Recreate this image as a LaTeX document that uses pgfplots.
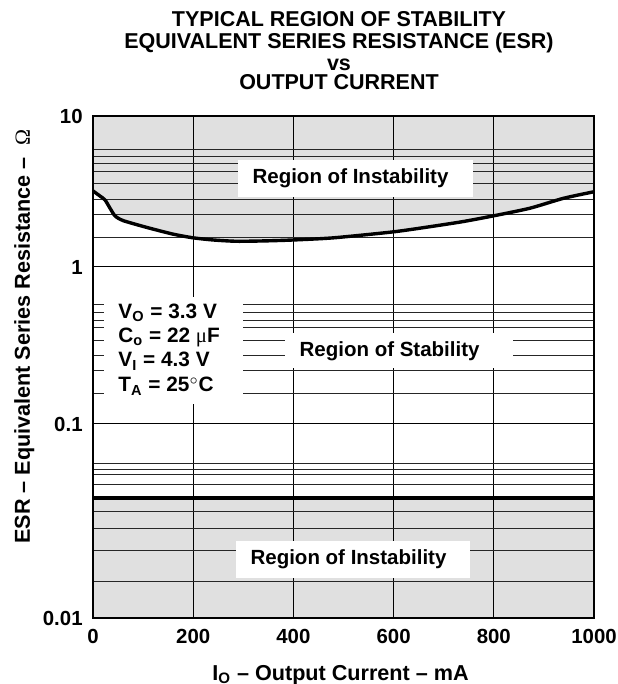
\documentclass[border=0pt]{standalone}
\usepackage{fontspec}
\setmainfont{Liberation Sans}
\newfontfamily\serifsym{Liberation Serif}
\usepackage{pgfplots}
\pgfplotsset{compat=1.18}
\definecolor{regiongray}{RGB}{224,224,224}

\begin{document}
\begin{tikzpicture}[font=\fontsize{10.25}{12}\selectfont\bfseries]

% ---- top decade 1..10
\begin{axis}[set layers, scale only axis, width=250.5pt, height=75.5pt,
  at={(0,175.5pt)}, anchor=south west,
  ymode=log, xmin=0, xmax=1000, ymin=1, ymax=10,
  xtick={0,200,400,600,800,1000}, xticklabels={},
  ytick={1,10}, yticklabels={1,10},
  minor ytick={1.56,2.21,2.82,3.55,4.26,4.88,5.43,5.96},
  grid=both,
  major grid style={black, line width=0.5pt},
  minor grid style={black!85, line width=0.5pt},
  major tick length=0pt, minor tick length=0pt,
  axis line style={draw=none},
  tick label style={font=\fontsize{10.2}{12}\selectfont\bfseries},
  yticklabel style={anchor=east, inner sep=0pt, xshift=-5pt}]
\addplot[on layer=axis background, fill=regiongray, draw=none] coordinates {
  (0,3.19) (14,2.95) (24,2.78) (34,2.45) (44,2.18) (60,2.03) (107,1.83)
  (160,1.65) (200,1.56) (240,1.51) (287,1.48) (347,1.49) (400,1.51)
  (480,1.56) (600,1.71) (673,1.85) (739,2.00) (799,2.18) (872,2.45)
  (939,2.85) (1000,3.15) (1000,10) (0,10)};
\addplot[black, line width=1.7pt, smooth, tension=0.4] coordinates {
  (0,3.19) (14,2.95) (24,2.78) (34,2.45) (44,2.18) (60,2.03) (107,1.83)
  (160,1.65) (200,1.56) (240,1.51) (287,1.48) (347,1.49) (400,1.51)
  (480,1.56) (600,1.71) (673,1.85) (739,2.00) (799,2.18) (872,2.45)
  (939,2.85) (1000,3.15)};
\end{axis}

% ---- middle decade 0.1..1
\begin{axis}[set layers, scale only axis, width=250.5pt, height=78.5pt,
  at={(0,97pt)}, anchor=south west,
  ymode=log, xmin=0, xmax=1000, ymin=0.1, ymax=1,
  xtick={0,200,400,600,800,1000}, xticklabels={},
  ytick={0.1,1}, yticklabels={0.1,{}},
  minor ytick={0.157,0.218,0.275,0.338,0.409,0.459,0.516,0.573},
  grid=both,
  major grid style={black, line width=0.5pt},
  minor grid style={black!85, line width=0.5pt},
  major tick length=0pt, minor tick length=0pt,
  axis line style={draw=none},
  tick label style={font=\fontsize{10.2}{12}\selectfont\bfseries},
  yticklabel style={anchor=east, inner sep=0pt, xshift=-5pt}]
\addplot[draw=none] coordinates {(0,0.5) (1000,0.5)};
\end{axis}

% ---- bottom decade 0.01..0.1
\begin{axis}[set layers, scale only axis, width=250.5pt, height=97pt,
  at={(0,0pt)}, anchor=south west,
  ymode=log, xmin=0, xmax=1000, ymin=0.01, ymax=0.1,
  xtick={0,200,400,600,800,1000}, xticklabels={0,200,400,600,800,1000},
  ytick={0.01,0.1}, yticklabels={0.01,{}},
  minor ytick={0.0155,0.0224,0.0288,0.0352,0.0485,0.0546,0.0586,0.0629},
  grid=both,
  major grid style={black, line width=0.5pt},
  minor grid style={black!85, line width=0.5pt},
  major tick length=0pt, minor tick length=0pt,
  axis line style={draw=none},
  tick label style={font=\fontsize{10.2}{12}\selectfont\bfseries},
  yticklabel style={anchor=east, inner sep=0pt, xshift=-5pt},
  xticklabel style={anchor=north, inner sep=0pt, yshift=-5.5pt}]
\addplot[on layer=axis background, fill=regiongray, draw=none] coordinates {
  (0,0.01) (1000,0.01) (1000,0.0415) (0,0.0415)};
\addplot[black, line width=1.8pt] coordinates {(0,0.0415) (1000,0.0415)};
\end{axis}

% ---- frame, labels and annotations
\begin{axis}[
  scale only axis, width=250.5pt, height=251pt,
  at={(0,0)}, anchor=south west, clip=false,
  xmin=0, xmax=1000, ymin=0, ymax=1,
  xtick=\empty, ytick=\empty,
  axis line style={line width=1.4pt},
  every axis y label/.style={at={(rel axis cs:-0.137,0.561)}, rotate=90, anchor=center,
     font=\fontsize{10.8}{12}\selectfont\bfseries},
  ylabel={ESR -- Equivalent Series Resistance --\hspace{6pt}{\serifsym\mdseries Ω}},
  every axis x label/.style={at={(rel axis cs:0.494,-0.1235)}, anchor=base,
     font=\fontsize{10.8}{12}\selectfont\bfseries},
  xlabel={I\textsubscript{O} -- Output Current -- mA},
]
\fill[white] (rel axis cs:0.289,0.839) rectangle (rel axis cs:0.758,0.912);
\node[anchor=center, inner sep=0pt] at (rel axis cs:0.514,0.876) {Region of Instability};
\fill[white] (rel axis cs:0.285,0.0797) rectangle (rel axis cs:0.752,0.153);
\node[anchor=center, inner sep=0pt] at (rel axis cs:0.510,0.118) {Region of Instability};
\fill[white] (rel axis cs:0.383,0.498) rectangle (rel axis cs:0.838,0.568);
\node[anchor=center, inner sep=0pt] at (rel axis cs:0.592,0.532) {Region of Stability};
\fill[white] (rel axis cs:0.022,0.426) rectangle (rel axis cs:0.299,0.639);
\begin{scope}[font=\fontsize{10.4}{12}\selectfont\bfseries]
\node[anchor=base west, inner sep=0pt] at (rel axis cs:0.05,0.5976) {V\textsubscript{O} = 3.3 V};
\node[anchor=base west, inner sep=0pt] at (rel axis cs:0.05,0.5478) {C\textsubscript{o} = 22 {\serifsym\mdseries μ}F};
\node[anchor=base west, inner sep=0pt] at (rel axis cs:0.05,0.5000) {V\textsubscript{I} = 4.3 V};
\node[anchor=base west, inner sep=0pt] at (rel axis cs:0.05,0.4502) {T\textsubscript{A} = 25$^\circ$C};
\end{scope}
\begin{scope}[font=\fontsize{10.75}{12}\selectfont\bfseries]
\node[anchor=base, inner sep=0pt] at (rel axis cs:0.491,1.178) {TYPICAL REGION OF STABILITY};
\node[anchor=base, inner sep=0pt] at (rel axis cs:0.491,1.135) {EQUIVALENT SERIES RESISTANCE (ESR)};
\node[anchor=base, inner sep=0pt] at (rel axis cs:0.491,1.0916) {vs};
\node[anchor=base, inner sep=0pt] at (rel axis cs:0.491,1.0518) {OUTPUT CURRENT};
\end{scope}
\end{axis}
\pgfresetboundingbox
\path (-46.5pt,-33pt) rectangle (262pt,309pt);
\end{tikzpicture}
\end{document}
